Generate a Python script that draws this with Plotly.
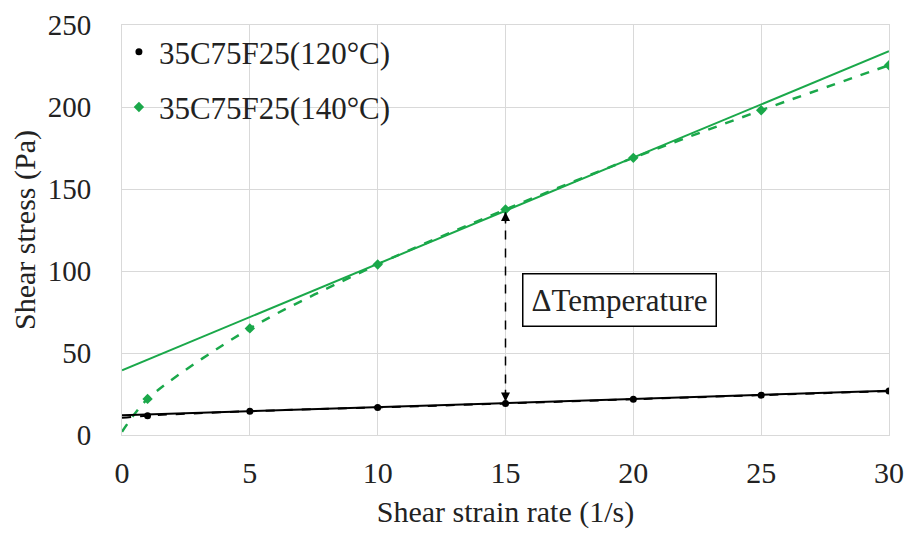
import plotly.graph_objects as go

# Data
shear_rate = [1, 5, 10, 15, 20, 25, 30]
stress_120 = [11.8, 14.5, 16.8, 19.2, 21.8, 24.3, 26.8]
stress_140 = [22, 65, 104, 137.5, 169, 198, 225.5]

# Trend lines (end points)
fit_x = [0, 30]
fit_120 = [12, 27]
fit_140 = [39.5, 234]

curve_x = [0] + shear_rate
curve_120 = [10.5] + stress_120
curve_140 = [2] + stress_140

arrow_x = 15
arrow_y = [20.5, 136]
label_x, label_y = 19.44, 82.4
label_text = "ΔTemperature"

black = "#000000"
green = "#1aa84a"
font = "Liberation Serif"
txt = "#222222"

fig = go.Figure()
fig.add_trace(go.Scatter(x=curve_x, y=curve_140, mode="lines", line=dict(color=green, width=2.5, dash="dash", shape="spline", smoothing=0.8), showlegend=False, hoverinfo="skip"))
fig.add_trace(go.Scatter(x=fit_x, y=fit_140, mode="lines", line=dict(color=green, width=2), showlegend=False, hoverinfo="skip"))
fig.add_trace(go.Scatter(x=curve_x, y=curve_120, mode="lines", line=dict(color=black, width=2, dash="dash", shape="spline"), showlegend=False, hoverinfo="skip"))
fig.add_trace(go.Scatter(x=fit_x, y=fit_120, mode="lines", line=dict(color=black, width=2), showlegend=False, hoverinfo="skip"))
fig.add_trace(go.Scatter(x=shear_rate, y=stress_120, mode="markers", name="35C75F25(120°C)", legendgroup="a",
                         marker=dict(color=black, size=7, symbol="circle")))
fig.add_trace(go.Scatter(x=shear_rate, y=stress_140, mode="markers", name="35C75F25(140°C)", legendgroup="b",
                         marker=dict(color=green, size=8, symbol="diamond")))

# double-headed dashed arrow
fig.add_trace(go.Scatter(x=[arrow_x, arrow_x], y=arrow_y, mode="lines", line=dict(color=black, width=1.5, dash="dash"), showlegend=False, hoverinfo="skip"))
fig.add_annotation(x=arrow_x, y=arrow_y[0], ax=arrow_x, ay=arrow_y[0] + 8, xref="x", yref="y", axref="x", ayref="y",
                   showarrow=True, arrowhead=2, arrowsize=1.2, arrowwidth=1.5, arrowcolor=black, text="")
fig.add_annotation(x=arrow_x, y=arrow_y[1], ax=arrow_x, ay=arrow_y[1] - 8, xref="x", yref="y", axref="x", ayref="y",
                   showarrow=True, arrowhead=2, arrowsize=1.2, arrowwidth=1.5, arrowcolor=black, text="")
fig.add_annotation(x=label_x, y=label_y, xref="x", yref="y", text=label_text, showarrow=False,
                   font=dict(family=font, size=31, color=txt), bordercolor=black, borderwidth=1.5,
                   borderpad=8, bgcolor="white")

# page body has an 8px margin; figure sized to fit the 914x537 window
fig.update_layout(
    width=898, height=521,
    margin=dict(l=114, r=17, t=17, b=94),
    paper_bgcolor="white", plot_bgcolor="white",
    font=dict(family=font, size=30, color=txt),
    legend=dict(x=-0.004, y=1.0, xanchor="left", yanchor="top", bgcolor="rgba(0,0,0,0)",
                font=dict(family=font, size=31, color=txt), tracegroupgap=12, itemsizing="trace", itemwidth=30),
    showlegend=True,
)
fig.update_xaxes(range=[0, 30], tickvals=[0, 5, 10, 15, 20, 25, 30], showgrid=True, gridcolor="#d9d9d9", gridwidth=1,
                 showline=True, linecolor="#d9d9d9", mirror=True, zeroline=False, ticks="", automargin=False,
                 ticklabelstandoff=11, ticklabeloverflow="allow",
                 title=dict(text="Shear strain rate (1/s)", font=dict(family=font, size=30, color=txt), standoff=18),
                 tickfont=dict(family=font, size=30, color=txt))
fig.update_yaxes(range=[0, 250], tickvals=[0, 50, 100, 150, 200, 250], showgrid=True, gridcolor="#d9d9d9", gridwidth=1,
                 showline=True, linecolor="#d9d9d9", mirror=True, zeroline=False, ticks="", automargin=False,
                 ticklabelstandoff=24, ticklabeloverflow="allow",
                 title=dict(text="Shear stress (Pa)", font=dict(family=font, size=30, color=txt), standoff=8),
                 tickfont=dict(family=font, size=29, color=txt))

fig.write_html("out.html")
